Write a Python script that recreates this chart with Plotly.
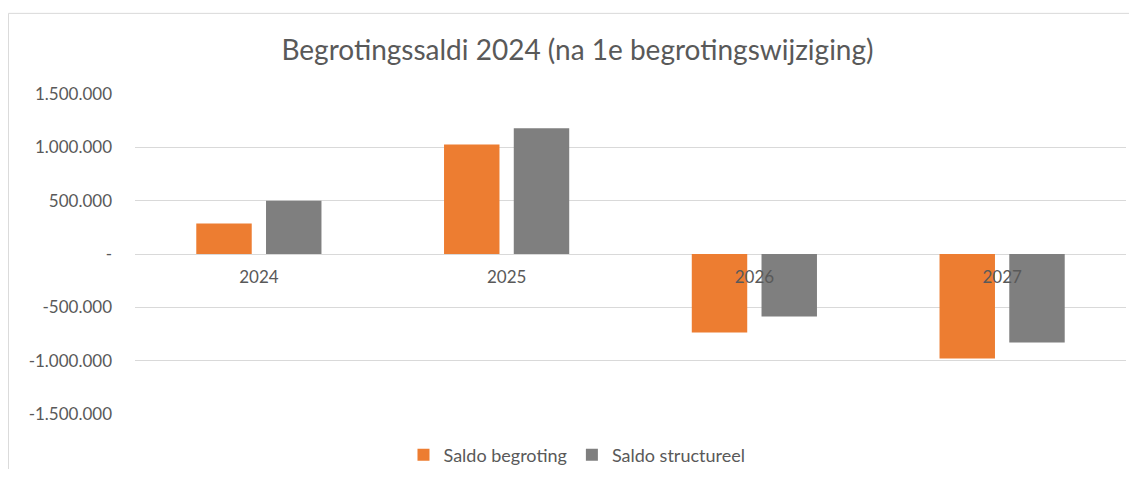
import plotly.graph_objects as go

categories = ["2024", "2025", "2026", "2027"]
saldo_begroting = [285000, 1027000, -735000, -980000]
saldo_structureel = [500000, 1180000, -585000, -830000]
tick_values = [1500000, 1000000, 500000, 0, -500000, -1000000, -1500000]
tick_labels = ["1.500.000", "1.000.000", "500.000", "-", "-500.000", "-1.000.000", "-1.500.000"]

FONT = "Lato"
TXT = "#595959"

fig = go.Figure()
fig.add_trace(go.Bar(name="Saldo begroting", x=categories, y=saldo_begroting,
                     marker=dict(color="#ED7D31", line=dict(width=0))))
fig.add_trace(go.Bar(name="Saldo structureel", x=categories, y=saldo_structureel,
                     marker=dict(color="#7F7F7F", line=dict(width=0))))

fig.update_layout(
    width=1121, height=461,
    margin=dict(l=127, r=3, t=86, b=55, autoexpand=False),
    paper_bgcolor="white", plot_bgcolor="white",
    barmode="group", bargap=0.437, bargroupgap=0.205,
    title=dict(text="Begrotingssaldi 2024 (na 1e begrotingswijziging)",
               x=0.508, xanchor="center", y=0.909, yanchor="middle",
               font=dict(family=FONT, size=28, color=TXT)),
    font=dict(family=FONT, color=TXT),
    legend=dict(orientation="h", x=0.446, xanchor="center", yref="container",
                y=0.0304, yanchor="middle",
                font=dict(family=FONT, size=18, color=TXT), bgcolor="rgba(0,0,0,0)"),
    showlegend=True,
    xaxis=dict(anchor="free", position=0.5, showline=False, showgrid=False, ticks="",
               zeroline=False, tickfont=dict(family=FONT, size=17, color=TXT),
               ticklabelstandoff=11, layer="above traces", automargin=False),
    yaxis=dict(range=[-1500000, 1500000], tickvals=tick_values, ticktext=tick_labels,
               showgrid=True, gridcolor="#D9D9D9", gridwidth=1, zeroline=False,
               showline=False, ticks="", ticklabelstandoff=22, automargin=False,
               tickfont=dict(family=FONT, size=17, color=TXT)),
    shapes=[dict(type="rect", xref="paper", yref="paper",
                 x0=-0.1277, x1=1.03, y0=-0.3, y1=1.252,
                 line=dict(color="#D9D9D9", width=1), fillcolor="rgba(0,0,0,0)",
                 layer="below")],
)

fig.write_html("out.html")
